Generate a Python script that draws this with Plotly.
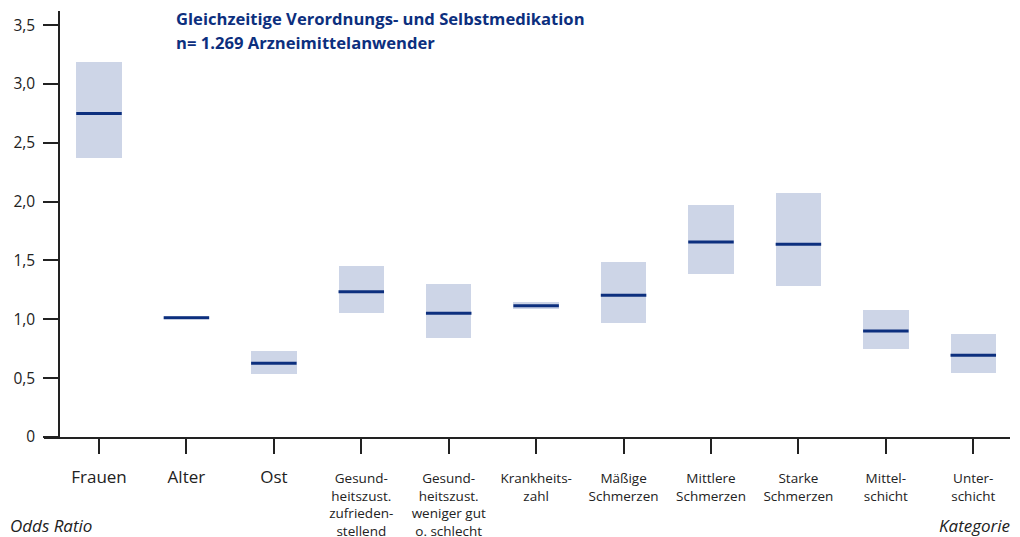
import plotly.graph_objects as go

# Kategorien (Tick-Beschriftungen)
kategorien = [
    "Frauen", "Alter", "Ost",
    "Gesund-<br>heitszust.<br>zufrieden-<br>stellend",
    "Gesund-<br>heitszust.<br>weniger gut<br>o. schlecht",
    "Krankheits-<br>zahl", "Mäßige<br>Schmerzen", "Mittlere<br>Schmerzen",
    "Starke<br>Schmerzen", "Mittel-<br>schicht", "Unter-<br>schicht",
]
# Odds Ratio mit Konfidenzintervall
odds_ratio = [2.75, 1.014, 0.626, 1.234, 1.051, 1.116, 1.204, 1.657, 1.637, 0.901, 0.694]
ki_unten = [2.373, 1.003, 0.538, 1.051, 0.841, 1.090, 0.971, 1.388, 1.285, 0.750, 0.546]
ki_oben = [3.186, 1.025, 0.731, 1.453, 1.302, 1.147, 1.487, 1.971, 2.073, 1.079, 0.875]

y_ticks = [0, 0.5, 1.0, 1.5, 2.0, 2.5, 3.0, 3.5]
y_ticktext = ["0", "0,5", "1,0", "1,5", "2,0", "2,5", "3,0", "3,5"]

x = list(range(len(kategorien)))
ticktext = [
    f'<span style="font-size:17px">{k}</span>' if "<br>" not in k else k
    for k in kategorien
]

BLAU = "#0c2f7e"
HELL = "#cdd5e7"
FONT = "Open Sans"

# die Seite hat 8px Rand um die Grafik, daher alles um 8px verschoben
PW, PH = 966, 426

fig = go.Figure()

fig.add_trace(go.Bar(
    x=x,
    y=[o - u for o, u in zip(ki_oben, ki_unten)],
    base=ki_unten,
    width=0.52,
    marker=dict(color=HELL, line=dict(width=0)),
    showlegend=False,
    hoverinfo="skip",
))

fig.add_trace(go.Scatter(
    x=x,
    y=odds_ratio,
    mode="markers",
    marker=dict(symbol="line-ew", size=32.5, line=dict(width=3, color=BLAU)),
    showlegend=False,
))

fig.update_layout(
    width=1020,
    height=537,
    margin=dict(l=36, r=18, t=3, b=108),
    plot_bgcolor="white",
    paper_bgcolor="white",
    font=dict(family=FONT, color="#222222", size=13),
    bargap=0,
    xaxis=dict(
        range=[-0.629, 10.42],
        tickvals=x,
        ticktext=ticktext,
        ticks="outside",
        ticklen=15,
        tickwidth=1.5,
        tickcolor="#222222",
        showline=True,
        linecolor="#222222",
        linewidth=1.5,
        showgrid=False,
        zeroline=False,
        tickfont=dict(size=13.5),
        ticklabelstandoff=13,
    ),
    yaxis=dict(
        range=[0, 3.62],
        anchor="free",
        position=15 / PW,
        tickvals=y_ticks,
        ticktext=y_ticktext,
        ticks="outside",
        ticklen=15,
        tickwidth=1.5,
        tickcolor="#222222",
        showline=True,
        linecolor="#222222",
        linewidth=1.5,
        showgrid=False,
        zeroline=False,
        tickfont=dict(size=15.5),
        ticklabelstandoff=5,
    ),
    annotations=[
        dict(
            text="<b>Gleichzeitige Verordnungs- und Selbstmedikation</b>",
            xref="paper", yref="paper", x=(174 - 44) / PW, y=1 + 6 / PH,
            xanchor="left", yanchor="top", showarrow=False,
            font=dict(size=16.6, color=BLAU, family=FONT),
        ),
        dict(
            text="<b>n= 1.269 Arzneimittelanwender</b>",
            xref="paper", yref="paper", x=(174 - 44) / PW, y=1 + 6 / PH - 24 / PH,
            xanchor="left", yanchor="top", showarrow=False,
            font=dict(size=16.6, color=BLAU, family=FONT),
        ),
        dict(
            text="<i>Odds Ratio</i>",
            xref="paper", yref="paper", x=-36 / PW, y=-88 / PH,
            xanchor="left", yanchor="middle", showarrow=False,
            font=dict(size=17, color="#222222", family=FONT),
        ),
        dict(
            text="<i>Kategorie</i>",
            xref="paper", yref="paper", x=1 + 2 / PW, y=-88 / PH,
            xanchor="right", yanchor="middle", showarrow=False,
            font=dict(size=17, color="#222222", family=FONT),
        ),
    ],
)

fig.write_html("out.html")
